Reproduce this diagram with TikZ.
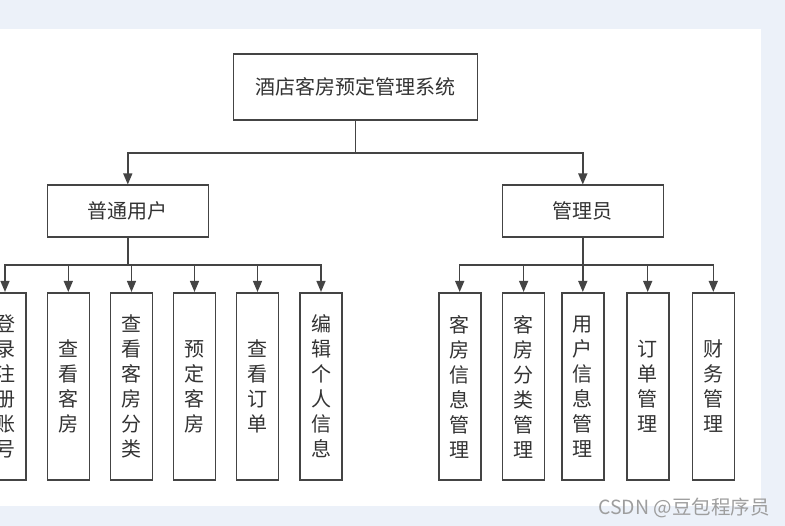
\documentclass[tikz,border=0pt]{standalone}
\usepackage{fontspec}
\setmainfont{Noto Sans CJK SC}
\usetikzlibrary{arrows.meta}
\definecolor{bgpage}{RGB}{236,241,249}
\definecolor{linegray}{RGB}{68,68,68}
\definecolor{textgray}{RGB}{51,51,51}

\begin{document}
\begin{tikzpicture}[x=1pt,y=-1pt,
  box/.style={draw=linegray,line width=1.6pt,fill=white,text=textgray,
    font=\fontsize{20}{25}\selectfont,inner sep=0pt},
  role/.style={box,minimum width=161pt,minimum height=52pt},
  leaf/.style={box,minimum width=42pt,minimum height=187.5pt,align=center},
  link/.style={draw=linegray,line width=1.4pt,-{Triangle[length=11pt,width=9pt]}}]
\clip (0,0) rectangle (785,526);
\fill[bgpage] (0,0) rectangle (785,526);
\fill[white] (0,29) rectangle (761,506);

\node[box,minimum width=244pt,minimum height=66pt] (sys) at (355.3,87.3) {酒店客房预定管理系统};
\node[role] (user) at (127.8,211.3) {普通用户};
\node[role] (admin) at (582.8,211.3) {管理员};

\node[leaf] (u1) at (5,386.5) {登\\录\\注\\册\\账\\号};
\node[leaf] (u2) at (68.3,386.5) {查\\看\\客\\房};
\node[leaf] (u3) at (131.5,386.5) {查\\看\\客\\房\\分\\类};
\node[leaf] (u4) at (194.5,386.5) {预\\定\\客\\房};
\node[leaf] (u5) at (257.5,386.5) {查\\看\\订\\单};
\node[leaf] (u6) at (321,386.5) {编\\辑\\个\\人\\信\\息};

\node[leaf] (a1) at (459.7,386.5) {客\\房\\信\\息\\管\\理};
\node[leaf] (a2) at (523.6,386.5) {客\\房\\分\\类\\管\\理};
\node[leaf] (a3) at (582.8,386.5) {用\\户\\信\\息\\管\\理};
\node[leaf] (a4) at (647.7,386.5) {订\\单\\管\\理};
\node[leaf] (a5) at (713.3,386.5) {财\\务\\管\\理};

\draw[link] (sys.south) -- ++(0,32) -| (user.north);
\draw[link] (sys.south) -- ++(0,32) -| (admin.north);
\foreach \n in {u1,u2,u3,u4,u5,u6}
  \draw[link] (user.south) -- ++(0,27) -| (\n.north);
\foreach \n in {a1,a2,a3,a4,a5}
  \draw[link] (admin.south) -- ++(0,27) -| (\n.north);

\node[text=black!38,font=\fontsize{19.5}{21}\selectfont] (mark) at (684,508) {CSDN @豆包程序员};
\end{tikzpicture}
\end{document}
